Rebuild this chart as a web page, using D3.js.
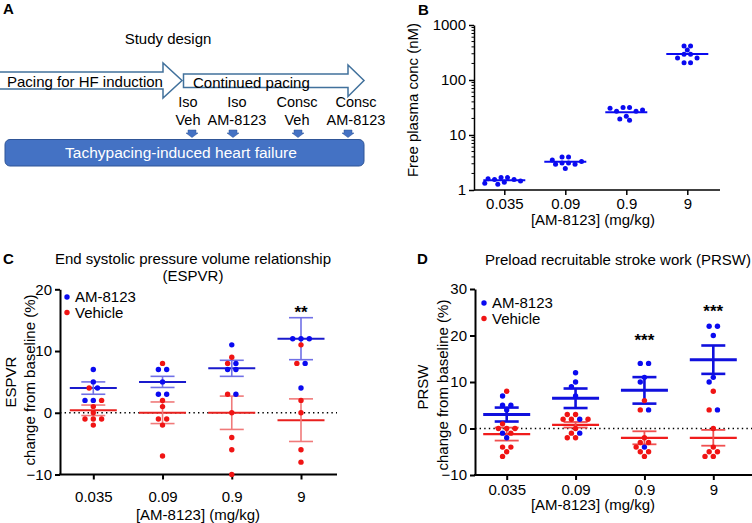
<!DOCTYPE html>
<html><head><meta charset="utf-8">
<script src="https://cdn.jsdelivr.net/npm/d3@7"></script>
<style>body{margin:0;background:#fff}svg text{font-family:"Liberation Sans",Arial,Helvetica,sans-serif}</style>
</head><body>
<script>
// ---------------- data ----------------
const doses = ["0.035", "0.09", "0.9", "9"];
const doseTitle = "[AM-8123] (mg/kg)";

// Panel B: free plasma concentration (nM)
const plasmaConc = [
  [1.68, 1.6, 1.56, 1.38, 1.27, 1.32, 1.46, 1.56, 1.68],
  [3.1, 2.95, 4.0, 3.5, 2.95, 4.0, 3.1, 3.3, 2.45],
  [31.5, 30.5, 27, 27, 28.5, 31.5, 22, 18.5, 19.5],
  [415, 415, 350, 295, 295, 250, 250, 205, 205]
];
const plasmaMean = [1.5, 3.25, 25.8, 297];
const plasmaTicks = [1, 10, 100, 1000];

// Panel C: ESPVR change from baseline (%)
const espvrDrug = [[7, 5, 4, 2, 2], [7, 7, 5, 3, 3], [11, 8, 7, 7, 3], [12, 12, 12, 8, 4]];
const espvrDrugMean = [4.0, 5.0, 7.2, 12.0];
const espvrDrugSem = [1.0, 0.9, 1.3, 3.4];
const espvrVeh = [[4, 2, 1, 0, -1, -1, -1, -2], [8, 2, 1, -1, -1, -2, -7], [9, 8, 3, 0, -4, -6, -10], [11, 8, 2, 0, -6, -8]];
const espvrVehMean = [0.4, 0.0, 0.0, -1.2];
const espvrVehSem = [0.85, 1.75, 2.7, 3.45];
const espvrStars = ["", "", "", "**"];
const espvrTicks = [-10, 0, 10, 20];

// Panel D: PRSW change from baseline (%)
const prswDrug = [[7, 5, 5, 4, -1, -2], [12, 10, 9, 7, 2, -1], [14, 14, 11, 10, 4, -4], [22, 22, 20, 11, 10, 4]];
const prswDrugMean = [3.0, 6.5, 8.2, 14.8];
const prswDrugSem = [1.5, 2.1, 2.85, 3.05];
const prswVeh = [[8, 1, 0, 0, 0, -1, -4, -4, -5, -6], [3, 3, 2, 2, 2, 0, -1, -2, -2], [6, 4, -2, -3, -3, -4, -5, -5, -6], [8, 4, 0, -4, -5, -5, -6, -6]];
const prswVehMean = [-1.2, 0.8, -2.0, -2.0];
const prswVehSem = [1.4, 0.6, 1.4, 1.7];
const prswStars = ["", "", "***", "***"];
const prswTicks = [-10, 0, 10, 20, 30];

const seriesNames = ["AM-8123", "Vehicle"];

// Panel A text
const studyTitle = "Study design";
const phases = ["Pacing for HF induction", "Continued pacing"];
const events = [["Iso", "Veh"], ["Iso", "AM-8123"], ["Consc", "Veh"], ["Consc", "AM-8123"]];
const barLabel = "Tachypacing-induced heart failure";

// ---------------- drawing ----------------
const BLUE = "#0a0af0", RED = "#f01414";
const svg = d3.select("body").append("svg").attr("width", 752).attr("height", 523);

function label(txt, x, y, opts = {}) {
  const t = svg.append("text").attr("x", x).attr("y", y).text(txt)
    .attr("font-size", opts.size || 15).attr("fill", opts.fill || "#000")
    .attr("text-anchor", opts.anchor || "middle").attr("dy", opts.dy == null ? "0.35em" : opts.dy);
  if (opts.bold) t.attr("font-weight", "bold");
  if (opts.rotate) t.attr("transform", `rotate(-90,${x},${y})`);
  return t;
}

// simple beeswarm: rows of equal values spread symmetrically, avoiding collisions
function swarm(pts, yOf, d, tau) {
  const rows = d3.groups(pts, p => p.v).map(([v, arr]) => ({ v, arr, y: yOf(v) }));
  rows.sort((a, b) => b.arr.length - a.arr.length || b.v - a.v);
  const placed = [];
  const ok = (x, y) => placed.every(q => Math.hypot(q.x - x, q.y - y) >= tau);
  const cands = [0];
  for (let k = 1; k < 40; k++) cands.push(-k * d / 2, k * d / 2);
  for (const row of rows) {
    const mine = [];
    for (const p of row.arr) {
      for (const c of cands) {
        if (ok(c, row.y) && mine.every(m => Math.abs(m.x - c) >= d - 0.01)) {
          p.dx = c; mine.push({ x: c, y: row.y }); break;
        }
      }
    }
    const mean = d3.mean(mine, m => m.x);
    if (Math.abs(mean) > 0.01) {
      const sh = mine.map(m => m.x - mean);
      if (sh.every(x => ok(x, row.y))) { row.arr.forEach((p, i) => p.dx = sh[i]); mine.forEach((m, i) => m.x = sh[i]); }
    }
    placed.push(...mine);
  }
  return pts;
}

// ---------- Panel A ----------
label("A", 3, 9, { size: 15, bold: true, anchor: "start" });
label(studyTitle, 168, 39, { size: 15 });
const arrowStroke = "#41719c";
const arr1 = [[-2, 72], [163, 72], [163, 63], [182, 80.5], [163, 98], [163, 89], [-2, 89]];
const arr2 = [[183.5, 74], [348, 74], [348, 65], [364, 80.5], [348, 96.5], [348, 87.5], [183.5, 87.5]];
[arr1, arr2].forEach(a => svg.append("path").attr("d", d3.line()(a) + "Z")
  .attr("fill", "#fff").attr("stroke", arrowStroke).attr("stroke-width", 1.5));
label(phases[0], 7, 87, { size: 15, anchor: "start", dy: 0 });
label(phases[1], 193, 87.5, { size: 15, anchor: "start", dy: 0 });
const evX = [188, 237, 297, 356];
const arrowX = [192, 233, 298, 348];
events.forEach((e, i) => {
  label(e[0], evX[i], 107, { size: 14.5, dy: 0 });
  label(e[1], evX[i], 125, { size: 14.5, dy: 0 });
  const cx = arrowX[i];
  svg.append("path").attr("d", `M${cx - 4},130 H${cx + 4} V133 H${cx + 6} L${cx},137.5 L${cx - 6},133 H${cx - 4} Z`)
    .attr("fill", "#4472c4").attr("stroke", "#2f5597").attr("stroke-width", 0.5);
});
svg.append("rect").attr("x", 5).attr("y", 139.5).attr("width", 359).attr("height", 26.5).attr("rx", 5)
  .attr("fill", "#4472c4").attr("stroke", "#2f5597").attr("stroke-width", 1);
label(barLabel, 181, 153, { size: 15.5, fill: "#fff" });

// ---------- Panel B ----------
(function () {
  const x = d3.scalePoint().domain(doses).range([504.3, 687.3]);
  const y = d3.scaleLog().domain([1, 1000]).range([190, 25]);
  const g = svg.append("g");
  // minor ticks
  const minor = [];
  for (let e = 0; e < 3; e++) for (let m = 2; m <= 9; m++) minor.push(m * Math.pow(10, e));
  g.selectAll("line.minor").data(minor).join("line").attr("x1", 471.5).attr("x2", 474)
    .attr("y1", d => y(d)).attr("y2", d => y(d)).attr("stroke", "#000").attr("stroke-width", 1);
  const ya = g.append("g").attr("transform", "translate(474,0)")
    .call(d3.axisLeft(y).tickValues(plasmaTicks).tickFormat(d3.format("d")).tickSize(5).tickSizeOuter(0).tickPadding(3));
  ya.selectAll("text").attr("font-size", 15).attr("font-family", null);
  ya.selectAll("line,path").attr("stroke-width", 1.5);
  const xa = g.append("g").attr("transform", "translate(0,190)")
    .call(d3.axisBottom(x).tickSize(5).tickPadding(3));
  xa.select(".domain").remove();
  xa.selectAll("text").attr("font-size", 15).attr("font-family", null);
  xa.selectAll("line").attr("stroke-width", 1.5);
  g.append("line").attr("x1", 474).attr("x2", 720).attr("y1", 190).attr("y2", 190).attr("stroke", "#000").attr("stroke-width", 1.5);
  label("B", 418, 10, { size: 15, bold: true, anchor: "start" });
  label("Free plasma conc (nM)", 413, 100, { size: 15, rotate: true });
  label(doseTitle, 593, 220, { size: 15 });
  doses.forEach((dose, i) => {
    const pts = swarm(plasmaConc[i].map(v => ({ v })), v => y(v), 6.5, 5.2);
    g.append("line").attr("x1", x(dose) - 21).attr("x2", x(dose) + 21)
      .attr("y1", y(plasmaMean[i])).attr("y2", y(plasmaMean[i])).attr("stroke", BLUE).attr("stroke-width", 2);
    g.selectAll(null).data(pts).join("circle").attr("cx", p => x(dose) + p.dx).attr("cy", p => y(p.v))
      .attr("r", 2.5).attr("fill", BLUE);
  });
})();

// ---------- Panels C & D ----------
function dotPanel(cfg) {
  const x = d3.scalePoint().domain(doses).range(cfg.xr);
  const y = d3.scaleLinear().domain(cfg.yd).range(cfg.yr);
  const g = svg.append("g");
  // zero line
  g.append("line").attr("x1", cfg.ax).attr("x2", cfg.axEnd).attr("y1", y(0)).attr("y2", y(0))
    .attr("stroke", "#000").attr("stroke-width", 1.4).attr("stroke-dasharray", "1.4,3.2");
  const ya = g.append("g").attr("transform", `translate(${cfg.ax},0)`)
    .call(d3.axisLeft(y).tickValues(cfg.ticks).tickSize(5).tickSizeOuter(0).tickPadding(3));
  ya.selectAll("text").attr("font-size", 15).attr("font-family", null);
  ya.selectAll("line,path").attr("stroke-width", 2);
  const xa = g.append("g").attr("transform", `translate(0,${cfg.yr[0]})`)
    .call(d3.axisBottom(x).tickSize(5).tickPadding(cfg.xPad));
  xa.select(".domain").remove();
  xa.selectAll("text").attr("font-size", 15).attr("font-family", null);
  xa.selectAll("line").attr("stroke-width", 2);
  g.append("line").attr("x1", cfg.ax - 1).attr("x2", cfg.axEnd).attr("y1", cfg.yr[0]).attr("y2", cfg.yr[0])
    .attr("stroke", "#000").attr("stroke-width", 2);

  const series = [
    { pts: cfg.drug, mean: cfg.drugMean, sem: cfg.drugSem, color: BLUE, bar: cfg.drugBar, name: seriesNames[0] },
    { pts: cfg.veh, mean: cfg.vehMean, sem: cfg.vehSem, color: RED, bar: cfg.vehBar, name: seriesNames[1] }
  ];
  doses.forEach((dose, i) => {
    const cx = x(dose);
    // error bars: red then blue
    [series[1], series[0]].forEach(s => {
      const m = s.mean[i], e = s.sem[i];
      g.append("line").attr("x1", cx - 23.5).attr("x2", cx + 23.5).attr("y1", y(m)).attr("y2", y(m))
        .attr("stroke", s.bar.mean).attr("stroke-width", s.bar.w + 0.4);
      [m - e, m + e].forEach(v => g.append("line").attr("x1", cx - 12).attr("x2", cx + 12)
        .attr("y1", y(v)).attr("y2", y(v)).attr("stroke", s.bar.err).attr("stroke-width", s.bar.w));
      g.append("line").attr("x1", cx).attr("x2", cx).attr("y1", y(m - e)).attr("y2", y(m + e))
        .attr("stroke", s.bar.err).attr("stroke-width", s.bar.w);
    });
    const pts = [];
    series.forEach(s => s.pts[i].forEach(v => pts.push({ v, color: s.color })));
    swarm(pts, v => y(v), 8.3, 6);
    g.selectAll(null).data(pts).join("circle").attr("cx", p => cx + p.dx).attr("cy", p => y(p.v))
      .attr("r", 2.7).attr("fill", p => p.color);
    if (cfg.stars[i]) label(cfg.stars[i], cx, cfg.starY[i] + 6, { size: 17, bold: true, dy: 0 });
  });
  // legend
  series.forEach((s, k) => {
    g.append("circle").attr("cx", cfg.legX).attr("cy", cfg.legY + k * 15.5).attr("r", 2.7).attr("fill", s.color);
    label(s.name, cfg.legX + 8, cfg.legY + k * 15.5, { size: 15, anchor: "start" });
  });
}

dotPanel({
  xr: [93.3, 301], yd: [-10, 20], yr: [474.5, 289.3], ax: 60, axEnd: 337, ticks: espvrTicks, xPad: 12,
  drug: espvrDrug, drugMean: espvrDrugMean, drugSem: espvrDrugSem,
  veh: espvrVeh, vehMean: espvrVehMean, vehSem: espvrVehSem,
  drugBar: { mean: "#1a1acc", err: "#7070e6", w: 1.6 }, vehBar: { mean: "#e8201e", err: "#f07a7a", w: 1.6 },
  stars: espvrStars, starY: [0, 0, 0, 312], legX: 67, legY: 297
});
label("C", 3, 259, { size: 15, bold: true, anchor: "start" });
label("End systolic pressure volume relationship", 193, 259, { size: 15 });
label("(ESPVR)", 193, 276, { size: 15 });
label("ESPVR", 11, 382, { size: 15, rotate: true });
label("change from baseline (%)", 30, 380, { size: 15, rotate: true });
label(doseTitle, 198, 515, { size: 15 });

dotPanel({
  xr: [506.7, 713.3], yd: [-10, 30], yr: [475, 289], ax: 475, axEnd: 752, ticks: prswTicks, xPad: 4,
  drug: prswDrug, drugMean: prswDrugMean, drugSem: prswDrugSem,
  veh: prswVeh, vehMean: prswVehMean, vehSem: prswVehSem,
  drugBar: { mean: "#1010dd", err: "#1010dd", w: 2.6 }, vehBar: { mean: "#f01c1c", err: "#f05050", w: 1.8 },
  stars: prswStars, starY: [0, 0, 340, 311], legX: 484, legY: 303
});
label("D", 417, 259, { size: 15, bold: true, anchor: "start" });
label("Preload recruitable stroke work (PRSW)", 618, 260, { size: 15 });
label("PRSW", 423, 387, { size: 15, rotate: true });
label("change from baseline (%)", 443, 385, { size: 15, rotate: true });
label(doseTitle, 593, 505, { size: 15 });
</script>
</body></html>
